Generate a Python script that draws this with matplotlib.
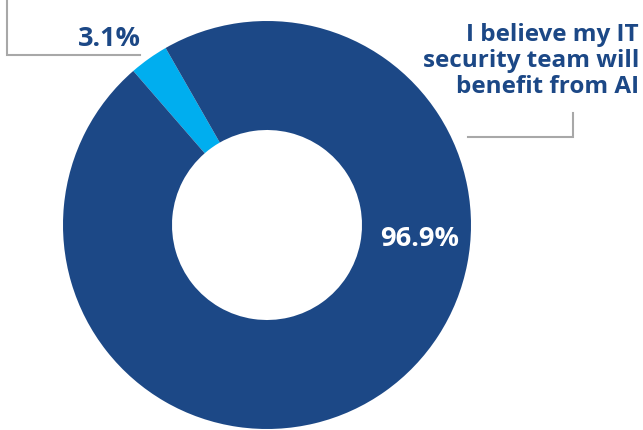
import matplotlib
matplotlib.use("Agg")
import matplotlib.pyplot as plt

labels = ["I believe my IT security team will benefit from AI", "Other"]
values = [96.9, 3.1]
colors = ["#1c4886", "#00aeef"]
pct_labels = ["96.9%", "3.1%"]

W, H = 643, 430
fig = plt.figure(figsize=(W / 100, H / 100), dpi=100)
ax = fig.add_axes([0, 0, 1, 1])

# small slice first, starting at 120 deg, counter-clockwise
ax.pie([values[1], values[0]], colors=[colors[1], colors[0]],
       startangle=119.8, counterclock=True,
       center=(267, H - 225), radius=204,
       wedgeprops=dict(width=109, linewidth=0))
ax.set_xlim(0, W)
ax.set_ylim(0, H)
ax.set_aspect("equal")
ax.axis("off")

font = "Open Sans"
ax.text(420, H - 239, pct_labels[0], color="white", fontsize=19.5, fontweight="bold",
        family=font, ha="center", va="center")
ax.text(141, H - 39, pct_labels[1], color=colors[0], fontsize=19.5, fontweight="bold",
        family=font, ha="right", va="center")
ax.text(639, H - 61, "I believe my IT\nsecurity team will\nbenefit from AI",
        color=colors[0], fontsize=17.5, fontweight="bold", family=font,
        ha="right", va="center", linespacing=1.12)

gray = "#a8a8a8"
ax.plot([7, 7, 140], [H - 0, H - 55, H - 55], color=gray, lw=1.5, solid_joinstyle="miter")
ax.plot([468, 573, 573], [H - 137, H - 137, H - 113], color=gray, lw=1.5, solid_joinstyle="miter")

fig.savefig("out.png", dpi=100)
